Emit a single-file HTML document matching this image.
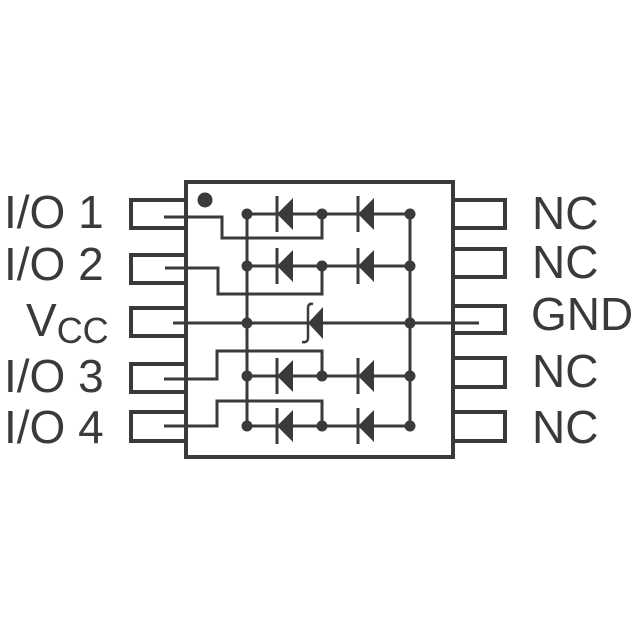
<!DOCTYPE html>
<html><head><meta charset="utf-8"><style>html,body{margin:0;padding:0;background:#fff}svg{display:block}</style></head>
<body>
<svg width="640" height="640" viewBox="0 0 640 640" xmlns="http://www.w3.org/2000/svg">
<g fill="none" stroke="#3a3a3a" stroke-width="4">
<rect x="186" y="182" width="267" height="275"/>
<path d="M186 200H131V228H186M186 255H131V283H186M186 308H131V336H186M186 364H131V392H186M186 412H131V441H186"/>
<path d="M453 200H505V228H453M453 249H505V277H453M453 306H505V333H453M453 358H505V387H453M453 412H505V441H453"/>
</g>
<g fill="none" stroke="#3a3a3a" stroke-width="3">
<path d="M164 217H222V238H322V214M165 268H218V294H322V266M173 323H479M164 379H217V351H322V376M164 426H217V401H322V426"/>
<path d="M247 214V426M410 214V426"/>
<path d="M247 214H410M247 266H410M247 376H410M247 426H410"/>
<path d="M277 196V232M277 248V284M277 358V394M277 408V444M358 196V232M358 248V284M358 358V394M358 408V444"/>
<path d="M308 307V339M308 307Q309 303 313 304M308 339Q307 343 302 342" stroke-width="2.5"/>
</g>
<g fill="#3a3a3a">
<circle cx="205" cy="200" r="7.5"/>
<circle cx="247" cy="214" r="5.5"/><circle cx="322" cy="214" r="5.5"/><circle cx="410" cy="214" r="5.5"/>
<circle cx="247" cy="266" r="5.5"/><circle cx="322" cy="266" r="5.5"/><circle cx="410" cy="266" r="5.5"/>
<circle cx="247" cy="323" r="5.5"/><circle cx="410" cy="323" r="5.5"/>
<circle cx="247" cy="376" r="5.5"/><circle cx="322" cy="376" r="5.5"/><circle cx="410" cy="376" r="5.5"/>
<circle cx="247" cy="426" r="5.5"/><circle cx="322" cy="426" r="5.5"/><circle cx="410" cy="426" r="5.5"/>
<path d="M277 214L293 198V230Z M358 214L374 198V230Z M277 266L293 250V282Z M358 266L374 250V282Z M277 376L293 360V392Z M358 376L374 360V392Z M277 426L293 410V442Z M358 426L374 410V442Z M308 323L323 307V339Z"/>
</g>
<g fill="#3a3a3a" font-family="Liberation Sans, Arial, sans-serif" font-size="46">
<text x="4" y="228">I/O 1</text>
<text x="4" y="280">I/O 2</text>
<text x="26" y="336">V<tspan font-size="36" dy="7">CC</tspan></text>
<text x="4" y="392">I/O 3</text>
<text x="4" y="443">I/O 4</text>
<text x="532" y="229">NC</text>
<text x="532" y="278">NC</text>
<text x="531" y="330">GND</text>
<text x="532" y="387">NC</text>
<text x="532" y="443">NC</text>
</g>
</svg>
</body></html>
